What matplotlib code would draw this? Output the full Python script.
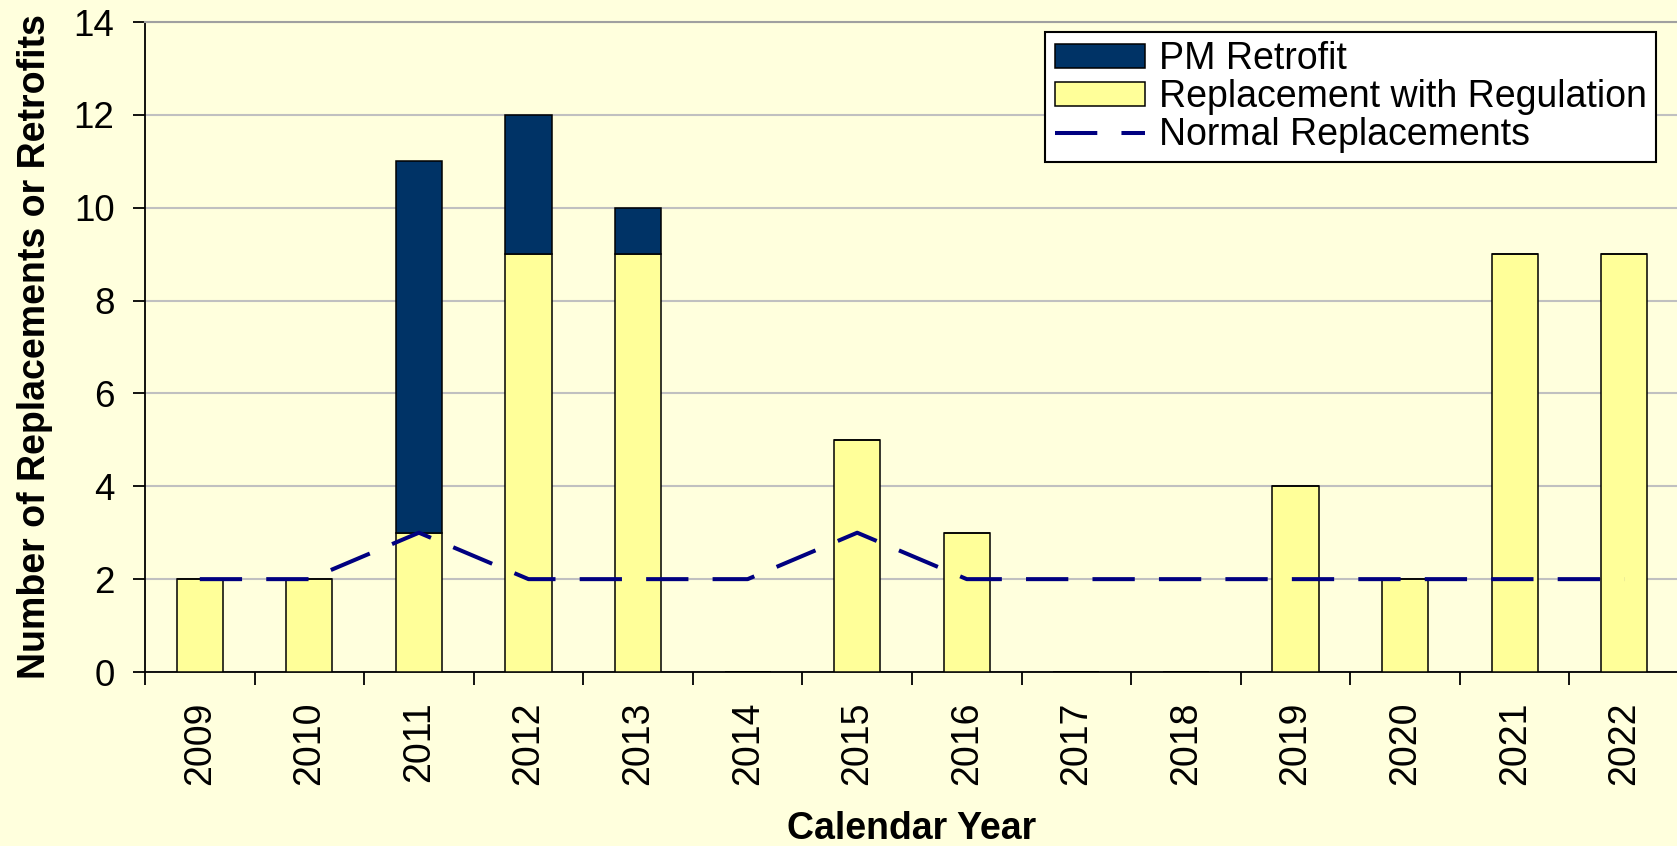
import matplotlib
matplotlib.use("Agg")
import matplotlib.pyplot as plt
import numpy as np
from matplotlib.ticker import FixedLocator

plt.rcParams['font.family'] = ['Liberation Sans', 'DejaVu Sans']

years = ["2009", "2010", "2011", "2012", "2013", "2014", "2015", "2016",
         "2017", "2018", "2019", "2020", "2021", "2022"]
replacement_with_regulation = [2, 2, 3, 9, 9, 0, 5, 3, 0, 0, 4, 2, 9, 9]
pm_retrofit = [0, 0, 8, 3, 1, 0, 0, 0, 0, 0, 0, 0, 0, 0]
normal_replacements = [2, 2, 3, 2, 2, 2, 3, 2, 2, 2, 2, 2, 2, 2]
yticks = [0, 2, 4, 6, 8, 10, 12, 14]

BG = "#FFFFDD"
YELLOW = "#FFFF99"
NAVY = "#003366"
LINE = "#000080"

W, H = 1677, 846
fig = plt.figure(figsize=(W / 100, H / 100), dpi=100, facecolor=BG)
left, right, top, bottom = 145, 1679, 22, 672
ax = fig.add_axes([left / W, (H - bottom) / H, (right - left) / W, (bottom - top) / H])
ax.set_facecolor(BG)

x = np.arange(len(years))
bw = 0.42
ax.bar(x, replacement_with_regulation, width=bw, color=YELLOW, edgecolor="black",
       linewidth=1.1, label="Replacement with Regulation", zorder=3)
ax.bar(x, pm_retrofit, width=bw, bottom=replacement_with_regulation, color=NAVY,
       edgecolor="black", linewidth=1.1, label="PM Retrofit", zorder=3)
ax.plot(x, normal_replacements, color=LINE, linewidth=2.9,
        linestyle=(0, (10.5, 6)), dash_capstyle="butt", solid_capstyle="butt",
        label="Normal Replacements", zorder=4)

ax.set_xlim(-0.5, len(years) - 0.5)
ax.set_ylim(0, 14)
ax.set_yticks(yticks)
ax.set_yticklabels([str(v) for v in yticks])
ax.yaxis.grid(True, color="#C0C0C0", linewidth=1.5, zorder=0)
ax.set_axisbelow(True)

ax.set_xticks(x)
ax.set_xticklabels(years, rotation=90)
ax.xaxis.set_minor_locator(FixedLocator(np.arange(-0.5, len(years), 1.0)))
ax.tick_params(axis="x", which="major", length=0, pad=21, labelsize=27)
ax.tick_params(axis="x", which="minor", length=9, width=1.3, direction="out")
ax.tick_params(axis="y", which="major", length=9, width=1.3, direction="out",
               pad=13, labelsize=26.5)

ax.spines["right"].set_visible(False)
ax.spines["top"].set_color("#A0A0A0")
ax.spines["top"].set_linewidth(1.5)
ax.spines["left"].set_linewidth(1.3)
ax.spines["bottom"].set_linewidth(1.3)

ax.set_xlabel("Calendar Year", fontsize=27, fontweight="bold", labelpad=19)
ax.set_ylabel("Number of Replacements or Retrofits", fontsize=27, fontweight="bold")
ax.yaxis.set_label_coords(-(145 - 53) / (right - left), 0.5)

handles, labels = ax.get_legend_handles_labels()
order = [labels.index("PM Retrofit"), labels.index("Replacement with Regulation"),
         labels.index("Normal Replacements")]
leg = ax.legend([handles[i] for i in order], [labels[i] for i in order],
                loc="upper right",
                bbox_to_anchor=((1656 - left) / (right - left), (bottom - 32) / (bottom - top)),
                borderaxespad=0, fontsize=27, frameon=True, fancybox=False,
                edgecolor="black", facecolor="white", framealpha=1,
                handlelength=2.4, handleheight=0.6, handletextpad=0.38,
                labelspacing=0.05, borderpad=0.25)
leg.get_frame().set_linewidth(1.5)
leg.set_zorder(10)

fig.savefig("out.png", dpi=100, facecolor=BG)
